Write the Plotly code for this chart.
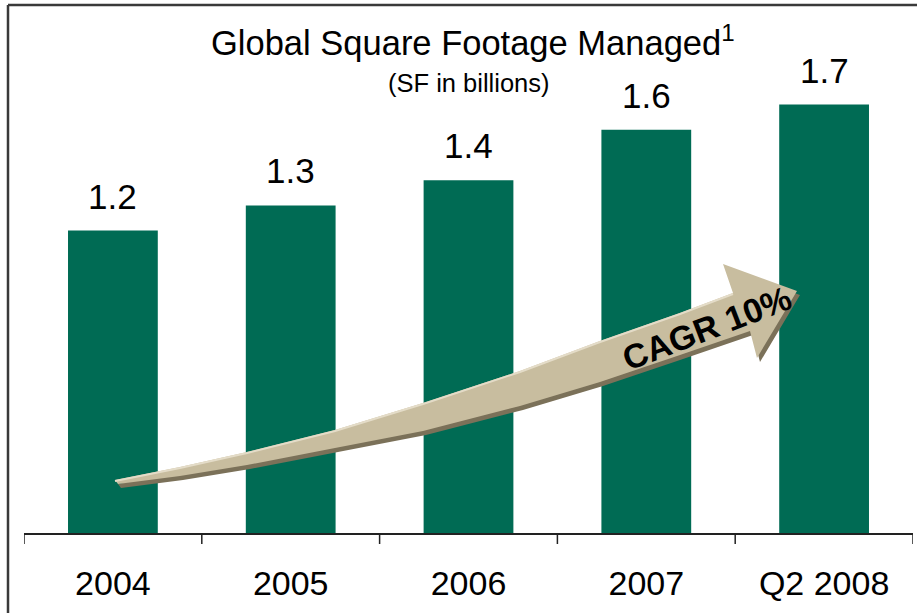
import plotly.graph_objects as go

# ---- data ----
categories = ["2004", "2005", "2006", "2007", "Q2 2008"]
sf_billions = [1.2, 1.3, 1.4, 1.6, 1.7]
value_labels = ["1.2", "1.3", "1.4", "1.6", "1.7"]

# ---- geometry of the canvas ----
W, H = 917, 613
L, R, T, B = 24, 4, 20, 80
PW, PH = W - L - R, H - T - B
Y_MAX = PH / 252.0

def px(xp):
    return (xp - L) / PW

def py(yp):
    return (H - B - yp) / PH

def path_from(points, dx=0, dy=0):
    s = ""
    for i, (x, y) in enumerate(points):
        s += ("M" if i == 0 else "L") + f"{px(x+dx):.5f},{py(y+dy):.5f} "
    return s + "Z"

# decorative arrow outline (pixel space)
upper = [(115, 480), (180, 467), (247, 452), (335, 430), (423, 403), (520, 371), (600, 341), (680, 313), (733, 293)]
lower = [(750, 331), (680, 355), (600, 382), (520, 406), (423, 431), (335, 448), (247, 465), (180, 476), (118, 484)]
head = [(723, 264), (797, 291), (757, 358)]
arrow_pts = upper + head + lower

fig = go.Figure()
fig.add_trace(go.Bar(
    x=list(range(len(categories))), y=sf_billions,
    marker=dict(color="#006B54", line=dict(width=0)),
    width=0.505, hoverinfo="skip",
))

shapes = [
    # frame
    dict(type="line", xref="paper", yref="paper", x0=px(8), x1=px(917), y0=py(5), y1=py(5),
         line=dict(color="#3a3a3a", width=2.5)),
    dict(type="line", xref="paper", yref="paper", x0=px(8), x1=px(8), y0=py(5), y1=py(613),
         line=dict(color="#3a3a3a", width=2.5)),
    # arrow shadow + body + highlight
    dict(type="path", xref="paper", yref="paper", path=path_from(arrow_pts, 3, 4),
         fillcolor="#7B7159", line=dict(width=0), layer="above"),
    dict(type="path", xref="paper", yref="paper", path=path_from(arrow_pts),
         fillcolor="#C8BD9F", line=dict(width=0), layer="above"),
]
hl = " ".join(("M" if i == 0 else "L") + f"{px(x):.5f},{py(y+1):.5f}" for i, (x, y) in enumerate(upper))
shapes.append(dict(type="path", xref="paper", yref="paper", path=hl,
                   line=dict(color="#E4DCC8", width=2), layer="above"))

annotations = [
    dict(text="Global Square Footage Managed<sup>1</sup>", xref="paper", yref="paper",
         x=px(473), y=py(40), xanchor="center", yanchor="middle", showarrow=False,
         font=dict(size=34.5, color="black")),
    dict(text="(SF in billions)", xref="paper", yref="paper",
         x=px(469), y=py(83), xanchor="center", yanchor="middle", showarrow=False,
         font=dict(size=25.5, color="black")),
    dict(text="<b>CAGR 10%</b>", xref="paper", yref="paper", x=px(707), y=py(328),
         xanchor="center", yanchor="middle", showarrow=False, textangle=-21,
         font=dict(size=34, color="black")),
]
for i, (v, t) in enumerate(zip(sf_billions, value_labels)):
    annotations.append(dict(text=t, x=i, y=v, xref="x", yref="y", yanchor="bottom",
                            yshift=13, showarrow=False, font=dict(size=35, color="black")))

fig.update_layout(
    width=W, height=H,
    margin=dict(l=L, r=R, t=T, b=B),
    paper_bgcolor="white", plot_bgcolor="white",
    font=dict(family="Liberation Sans, Arial, sans-serif", color="black"),
    showlegend=False,
    shapes=shapes, annotations=annotations,
    xaxis=dict(type="linear", showline=True, linecolor="#222", linewidth=1.5,
               tickmode="array", tickvals=list(range(len(categories))), ticktext=categories,
               ticks="", tickfont=dict(size=34, color="black"), ticklabelstandoff=19,
               showgrid=False, zeroline=False, range=[-0.5, 4.5], fixedrange=True),
    yaxis=dict(range=[0, Y_MAX], visible=False, showgrid=False, zeroline=False, fixedrange=True),
)
# boundary tick marks between categories
for b in [i - 0.5 for i in range(len(categories) + 1)]:
    fig.add_shape(type="line", xref="x", yref="paper", x0=b, x1=b, y0=0, y1=-11 / PH,
                  line=dict(color="#222", width=1.5))

fig.write_html("out.html", config={"displayModeBar": False},
               post_script="document.body.style.margin='0';")
